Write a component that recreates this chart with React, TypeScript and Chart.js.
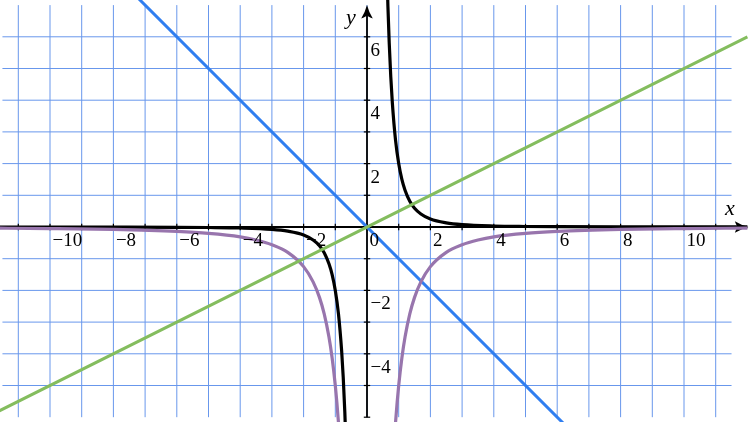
import React, { useEffect, useRef } from "react";
import { Chart, registerables } from "chart.js";

Chart.register(...registerables);

// ---- data ----
const blueX = [-7.6, 6.6];
const blueY = [7.6, -6.6];

const greenX = [-12, 12];
const greenY = [-6, 6];

const blackRightX = [0.62, 0.66, 0.7, 0.75, 0.8, 0.9, 1.0, 1.1, 1.2, 1.35, 1.5, 1.7, 2.0, 2.5, 3, 4, 5, 6, 8, 10, 12];
const blackRightY = [8.4, 6.96, 5.83, 4.74, 3.91, 2.74, 2.0, 1.5, 1.16, 0.81, 0.59, 0.41, 0.25, 0.13, 0.074, 0.031, 0.016, 0.009, 0.004, 0.002, 0.001];

const blackLeftX = [-12, -10, -8, -6, -5, -4, -3, -2.5, -2.0, -1.7, -1.5, -1.35, -1.2, -1.1, -1.0, -0.9, -0.8, -0.75, -0.7, -0.66, -0.62];
const blackLeftY = [-0.001, -0.002, -0.004, -0.009, -0.016, -0.031, -0.074, -0.13, -0.25, -0.41, -0.59, -0.81, -1.16, -1.5, -2.0, -2.74, -3.91, -4.74, -5.83, -6.96, -8.4];

const purpleRightX = [0.8, 0.85, 0.9, 0.95, 1.0, 1.1, 1.2, 1.35, 1.5, 1.7, 2.0, 2.5, 3, 3.5, 4, 5, 6, 8, 10, 12];
const purpleRightY = [-7.8, -6.9, -6.17, -5.54, -5.0, -4.13, -3.47, -2.74, -2.22, -1.73, -1.25, -0.8, -0.56, -0.41, -0.31, -0.2, -0.14, -0.078, -0.05, -0.035];

const purpleLeftX = [-12, -10, -8, -6, -5, -4, -3.5, -3, -2.5, -2.0, -1.7, -1.5, -1.35, -1.2, -1.1, -1.0, -0.95, -0.9, -0.85, -0.8];
const purpleLeftY = [-0.035, -0.05, -0.078, -0.14, -0.2, -0.31, -0.41, -0.56, -0.8, -1.25, -1.73, -2.22, -2.74, -3.47, -4.13, -5.0, -5.54, -6.17, -6.9, -7.8];

const xTickMarks = [-11, -10, -9, -8, -7, -6, -5, -4, -3, -2, -1, 1, 2, 3, 4, 5, 6, 7, 8, 9, 10, 11];
const yTickMarks = [-6, -5, -4, -3, -2, -1, 1, 2, 3, 4, 5, 6];
const xLabelValues = [-10, -8, -6, -4, -2, 0, 2, 4, 6, 8, 10];
const xLabels = ["\u221210", "\u22128", "\u22126", "\u22124", "\u22122", "0", "2", "4", "6", "8", "10"];
const yLabelValues = [-4, -2, 2, 4, 6];
const yLabels = ["\u22124", "\u22122", "2", "4", "6"];
const gridXValues = [-11, -10, -9, -8, -7, -6, -5, -4, -3, -2, -1, 0, 1, 2, 3, 4, 5, 6, 7, 8, 9, 10, 11];
const gridYValues = [-5, -4, -3, -2, -1, 0, 1, 2, 3, 4, 5, 6];

const X_MIN = -11.5, X_MAX = 11.5, Y_MIN = -6, Y_MAX = 7;
const X_AXIS_START = -12.5, X_AXIS_END = 12.03;

const BLUE = "#2f7ef0";
const GREEN = "#84bd5e";
const PURPLE = "#9875ad";
const BLACK = "#000000";
const GRID = "rgb(104,151,236)";

const pts = (xs: number[], ys: number[]) => xs.map((x, i) => ({ x, y: ys[i] }));

function arrow(ctx: CanvasRenderingContext2D, tx: number, ty: number, dx: number, dy: number) {
  const L = 13.5, W = 5.8, N = 3.5;
  const px = -dy, py = dx;
  const bx = tx - dx * L, by = ty - dy * L;
  ctx.beginPath();
  ctx.moveTo(tx, ty);
  ctx.quadraticCurveTo(tx - dx * L * 0.5 + px * W * 0.3, ty - dy * L * 0.5 + py * W * 0.3, bx + px * W, by + py * W);
  ctx.quadraticCurveTo(tx - dx * (L - N * 0.6), ty - dy * (L - N * 0.6), tx - dx * (L - N), ty - dy * (L - N));
  ctx.quadraticCurveTo(tx - dx * (L - N * 0.6), ty - dy * (L - N * 0.6), bx - px * W, by - py * W);
  ctx.quadraticCurveTo(tx - dx * L * 0.5 - px * W * 0.3, ty - dy * L * 0.5 - py * W * 0.3, tx, ty);
  ctx.closePath();
  ctx.fill();
}

const axesPlugin = {
  id: "mathAxes",
  beforeDatasetsDraw(chart: any) {
    const { ctx } = chart;
    const xs = chart.scales.x, ys = chart.scales.y;
    const X0 = xs.getPixelForValue(0), Y0 = ys.getPixelForValue(0);
    ctx.save();
    // grid
    ctx.strokeStyle = GRID;
    ctx.lineWidth = 1;
    for (const v of gridXValues) {
      const p = xs.getPixelForValue(v);
      ctx.beginPath();
      ctx.moveTo(p, ys.getPixelForValue(Y_MIN));
      ctx.lineTo(p, ys.getPixelForValue(Y_MAX));
      ctx.stroke();
    }
    for (const v of gridYValues) {
      const p = ys.getPixelForValue(v);
      ctx.beginPath();
      ctx.moveTo(xs.getPixelForValue(X_MIN), p);
      ctx.lineTo(xs.getPixelForValue(X_MAX), p);
      ctx.stroke();
    }
    // axes
    ctx.strokeStyle = BLACK;
    ctx.fillStyle = BLACK;
    ctx.lineWidth = 1.8;
    const xTip = xs.getPixelForValue(X_AXIS_END);
    const yTip = ys.getPixelForValue(Y_MAX);
    ctx.beginPath();
    ctx.moveTo(xs.getPixelForValue(X_AXIS_START), Y0);
    ctx.lineTo(xTip - 9, Y0);
    ctx.stroke();
    ctx.beginPath();
    ctx.moveTo(X0, ys.getPixelForValue(Y_MIN));
    ctx.lineTo(X0, yTip + 9);
    ctx.stroke();
    arrow(ctx, xTip, Y0, 1, 0);
    arrow(ctx, X0, yTip, 0, -1);
    // ticks
    ctx.lineWidth = 1.2;
    for (const v of xTickMarks) {
      const p = xs.getPixelForValue(v);
      ctx.beginPath();
      ctx.moveTo(p, Y0 - 3.2);
      ctx.lineTo(p, Y0 + 3.2);
      ctx.stroke();
    }
    for (const v of yTickMarks) {
      const p = ys.getPixelForValue(v);
      ctx.beginPath();
      ctx.moveTo(X0 - 3.2, p);
      ctx.lineTo(X0 + 3.2, p);
      ctx.stroke();
    }
    ctx.restore();
  },
  afterDatasetsDraw(chart: any) {
    const { ctx } = chart;
    const xs = chart.scales.x, ys = chart.scales.y;
    const X0 = xs.getPixelForValue(0), Y0 = ys.getPixelForValue(0);
    ctx.save();
    ctx.fillStyle = BLACK;
    ctx.font = '19px "Liberation Serif"';
    ctx.textAlign = "left";
    ctx.textBaseline = "alphabetic";
    xLabelValues.forEach((v, i) => {
      ctx.fillText(xLabels[i], xs.getPixelForValue(v) + 2.5, Y0 + 18.5);
    });
    yLabelValues.forEach((v, i) => {
      ctx.fillText(yLabels[i], X0 + 3.5, ys.getPixelForValue(v) + 19);
    });
    ctx.font = 'italic 22px "Liberation Serif"';
    ctx.textAlign = "center";
    ctx.fillText("x", xs.getPixelForValue(11.45), Y0 - 12);
    ctx.fillText("y", X0 - 16, ys.getPixelForValue(Y_MAX) + 19);
    ctx.restore();
  },
};

export default function App() {
  const ref = useRef<HTMLCanvasElement | null>(null);
  useEffect(() => {
    if (!ref.current) return;
    const common = { pointRadius: 0, pointHoverRadius: 0, clip: false as any, fill: false };
    const chart = new Chart(ref.current, {
      type: "line",
      data: {
        datasets: [
          { ...common, data: pts(greenX, greenY), borderColor: GREEN, borderWidth: 3, tension: 0 },
          { ...common, data: pts(purpleLeftX, purpleLeftY), borderColor: PURPLE, borderWidth: 3.2, cubicInterpolationMode: "monotone" },
          { ...common, data: pts(purpleRightX, purpleRightY), borderColor: PURPLE, borderWidth: 3.2, cubicInterpolationMode: "monotone" },
          { ...common, data: pts(blackLeftX, blackLeftY), borderColor: BLACK, borderWidth: 3.2, cubicInterpolationMode: "monotone" },
          { ...common, data: pts(blackRightX, blackRightY), borderColor: BLACK, borderWidth: 3.2, cubicInterpolationMode: "monotone" },
          { ...common, data: pts(blueX, blueY), borderColor: BLUE, borderWidth: 3, tension: 0 },
        ] as any,
      },
      options: {
        animation: false,
        responsive: false,
        events: [],
        layout: { padding: { left: 2.45, right: 18.45, top: 5.1, bottom: 4.8 } },
        plugins: { legend: { display: false }, tooltip: { enabled: false } },
        scales: {
          x: { type: "linear", min: X_MIN, max: X_MAX, display: false },
          y: { type: "linear", min: Y_MIN, max: Y_MAX, display: false },
        },
      },
      plugins: [axesPlugin],
    });
    return () => chart.destroy();
  }, []);
  return (
    <div style={{ position: "fixed", left: 0, top: 0, width: 750, height: 422, background: "#fff" }}>
      <canvas ref={ref} width={750} height={422} style={{ display: "block" }} />
    </div>
  );
}
